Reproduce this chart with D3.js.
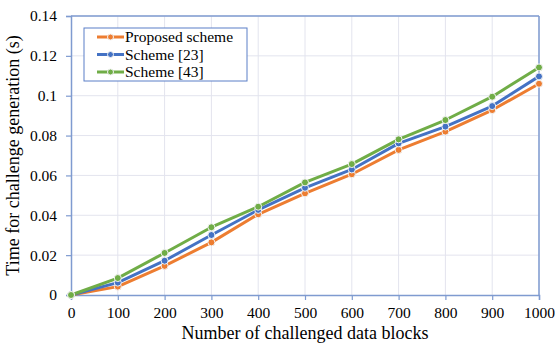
<!DOCTYPE html>
<html>
<head>
<meta charset="utf-8">
<script src="https://cdn.jsdelivr.net/npm/d3@7"></script>
<style>
  body { margin: 0; background: #fff; }
  svg text { font-family: "Liberation Serif", "Times New Roman", serif; fill: #000; }
</style>
</head>
<body>
<div id="chart"></div>
<script>
(function(){
  // data
  const blocks = [0, 100, 200, 300, 400, 500, 600, 700, 800, 900, 1000];
  const proposed = [0, 0.0042, 0.0146, 0.0264, 0.0405, 0.051, 0.0606, 0.0728, 0.082, 0.0928, 0.106];
  const scheme23 = [0, 0.0062, 0.0172, 0.0301, 0.0427, 0.0538, 0.063, 0.0761, 0.0845, 0.0948, 0.1097];
  const scheme43 = [0, 0.0085, 0.0211, 0.034, 0.0443, 0.0565, 0.0657, 0.0781, 0.0878, 0.0995, 0.1142];
  const seriesNames = ['Proposed scheme', 'Scheme [23]', 'Scheme [43]'];
  const yTicks = [0, 0.02, 0.04, 0.06, 0.08, 0.1, 0.12, 0.14];

  const series = [
    { name: seriesNames[0], values: proposed, color: '#ED7D31' },
    { name: seriesNames[1], values: scheme23, color: '#4472C4' },
    { name: seriesNames[2], values: scheme43, color: '#70AD47' }
  ];

  const width = 555;
  const height = 344;
  const margin = { top: 16, right: 16, bottom: 49, left: 71 };
  const axisColor = '#7F9BD0';
  const serif = '"Liberation Serif", "Times New Roman", serif';

  const svg = d3.select('#chart')
    .append('svg')
    .attr('width', width)
    .attr('height', height)
    .attr('font-family', serif);

  const x = d3.scaleLinear()
    .domain([0, 1000])
    .range([margin.left, width - margin.right]);
  const y = d3.scaleLinear()
    .domain([0, 0.14])
    .range([height - margin.bottom, margin.top]);

  // grid
  svg.append('g')
    .selectAll('line.vg')
    .data(blocks.slice(1))
    .enter().append('line')
    .attr('x1', d => x(d)).attr('x2', d => x(d))
    .attr('y1', y(0)).attr('y2', y(0.14))
    .attr('stroke', '#E3E4EE').attr('stroke-width', 1);
  svg.append('g')
    .selectAll('line.hg')
    .data(yTicks.slice(1))
    .enter().append('line')
    .attr('x1', x(0)).attr('x2', x(1000))
    .attr('y1', d => y(d)).attr('y2', d => y(d))
    .attr('stroke', '#E3E4EE').attr('stroke-width', 1);

  // axes
  const fmt = d => d3.format('~g')(d);
  const xAxis = svg.append('g')
    .attr('transform', 'translate(0,' + y(0) + ')')
    .call(d3.axisBottom(x).tickValues(blocks).tickFormat(d3.format('d')).tickSize(5).tickPadding(7));
  const yAxis = svg.append('g')
    .attr('transform', 'translate(' + x(0) + ',0)')
    .call(d3.axisLeft(y).tickValues(yTicks).tickFormat(fmt).tickSize(5).tickPadding(9));
  [xAxis, yAxis].forEach(a => {
    a.attr('font-family', serif).attr('font-size', 15.5);
    a.select('.domain').attr('stroke', axisColor).attr('stroke-width', 1.5);
    a.selectAll('.tick line').attr('stroke', axisColor).attr('stroke-width', 1.2);
    a.selectAll('text').attr('fill', '#000');
  });
  // right and top frame
  svg.append('line')
    .attr('x1', x(1000)).attr('x2', x(1000)).attr('y1', y(0)).attr('y2', y(0.14))
    .attr('stroke', axisColor).attr('stroke-width', 1.5);
  svg.append('line')
    .attr('x1', x(0)).attr('x2', x(1000)).attr('y1', y(0.14)).attr('y2', y(0.14))
    .attr('stroke', axisColor).attr('stroke-width', 1.5);

  // lines
  const line = d3.line()
    .x((d, i) => x(blocks[i]))
    .y(d => y(d));

  series.forEach(s => {
    svg.append('path')
      .datum(s.values)
      .attr('d', line)
      .attr('fill', 'none')
      .attr('stroke', s.color)
      .attr('stroke-width', 3)
      .attr('stroke-linejoin', 'round');
  });
  series.forEach(s => {
    svg.append('g')
      .selectAll('circle')
      .data(s.values)
      .enter().append('circle')
      .attr('cx', (d, i) => x(blocks[i]))
      .attr('cy', d => y(d))
      .attr('r', 3.5)
      .attr('fill', s.color)
      .attr('stroke', '#F2F2F2')
      .attr('stroke-width', 1);
  });

  // axis titles
  svg.append('text')
    .attr('x', (x(0) + x(1000)) / 2)
    .attr('y', 339)
    .attr('text-anchor', 'middle')
    .style('font-size', '18px')
    .text('Number of challenged data blocks');
  svg.append('text')
    .attr('transform', 'translate(19,' + ((y(0) + y(0.14)) / 2) + ') rotate(-90)')
    .attr('text-anchor', 'middle')
    .style('font-size', '18px')
    .text('Time for challenge generation (s)');

  // legend
  const legend = svg.append('g').attr('transform', 'translate(84,28)');
  legend.append('rect')
    .attr('width', 163).attr('height', 53)
    .attr('fill', '#fff')
    .attr('stroke', '#5B7FC7').attr('stroke-width', 1);
  const item = legend.selectAll('g.item')
    .data(series)
    .enter().append('g')
    .attr('transform', (d, i) => 'translate(0,' + (9 + i * 17.5) + ')');
  item.append('line')
    .attr('x1', 13).attr('x2', 40)
    .attr('stroke', d => d.color).attr('stroke-width', 3);
  item.append('circle')
    .attr('cx', 26.5).attr('r', 3)
    .attr('fill', d => d.color).attr('stroke', '#F2F2F2').attr('stroke-width', 1);
  item.append('text')
    .attr('x', 41).attr('y', 5)
    .style('font-size', '15.5px')
    .text(d => d.name);
})();
</script>
</body>
</html>
